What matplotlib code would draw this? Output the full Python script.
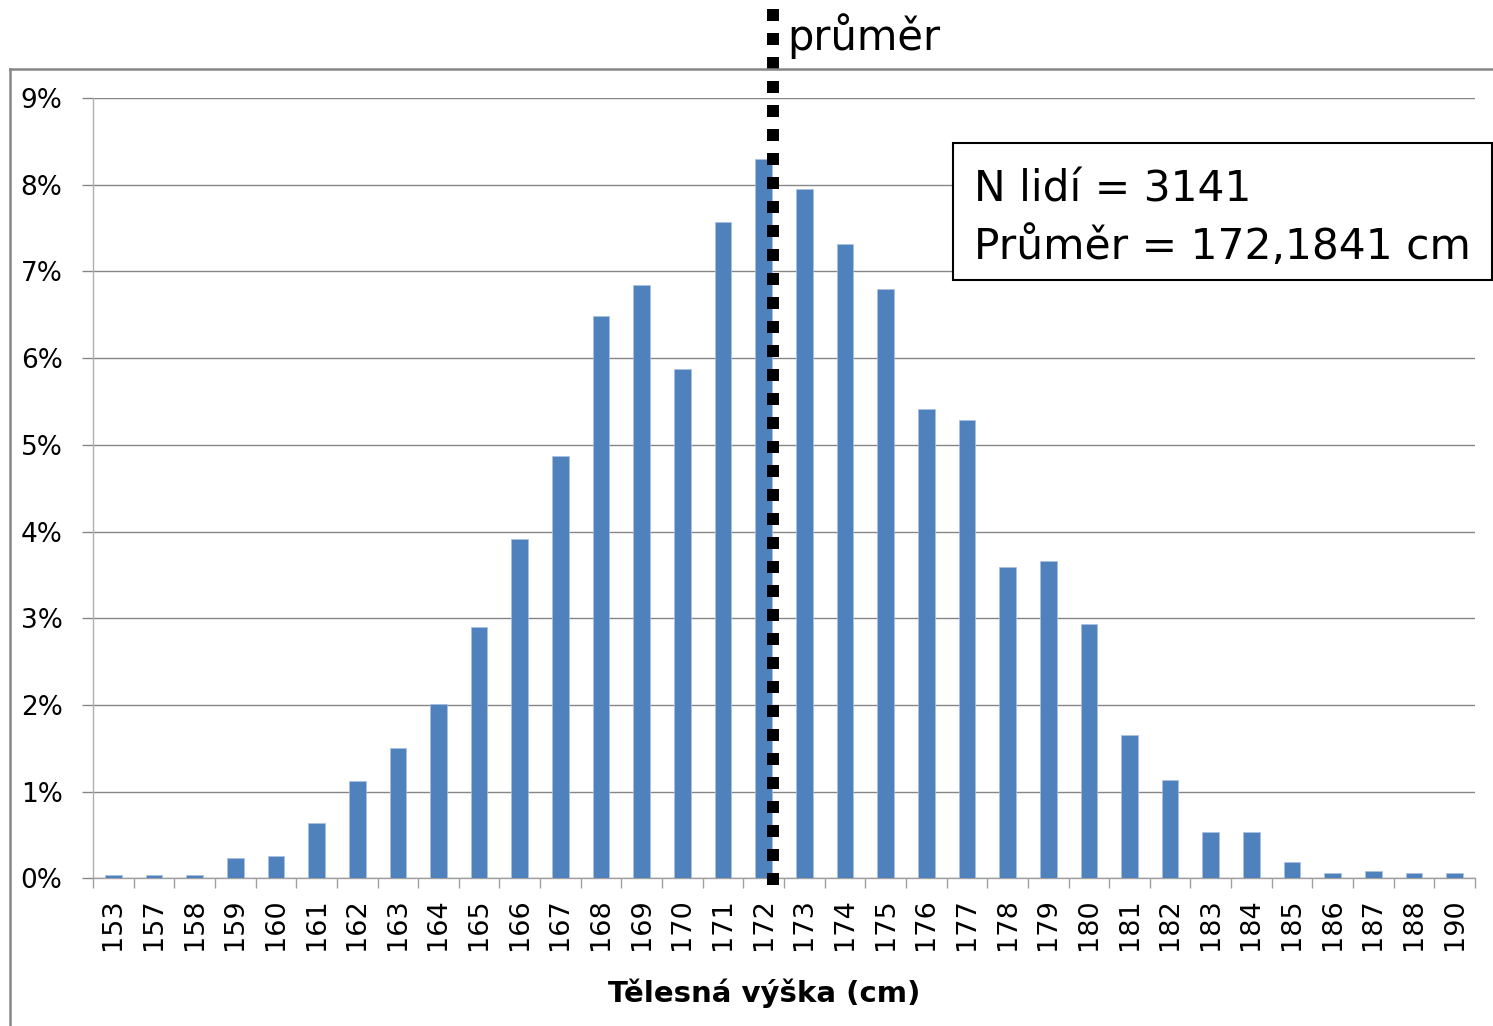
import matplotlib
matplotlib.use('Agg')
import matplotlib.pyplot as plt
import matplotlib.transforms as mtransforms
from matplotlib.lines import Line2D
from matplotlib.patches import Rectangle
import numpy as np

# ---- data ----
categories = ['153', '157', '158', '159', '160', '161', '162', '163', '164', '165',
              '166', '167', '168', '169', '170', '171', '172', '173', '174', '175',
              '176', '177', '178', '179', '180', '181', '182', '183', '184', '185',
              '186', '187', '188', '190']
values = [0.035, 0.035, 0.035, 0.23, 0.254, 0.638, 1.122, 1.503, 2.01, 2.90,
          3.91, 4.87, 6.49, 6.84, 5.88, 7.57, 8.30, 7.95, 7.32, 6.80,
          5.41, 5.29, 3.59, 3.66, 2.93, 1.654, 1.135, 0.539, 0.539, 0.193,
          0.058, 0.089, 0.058, 0.058]
ytick_values = list(range(10))
ytick_labels = [f'{v}%' for v in ytick_values]
n_people = 3141
mean_label = '172,1841'
mean_pos = 16.23          # position of the mean line on the category axis
xlabel = 'Tělesná výška (cm)'
mean_text = 'průměr'

W, H = 1493, 1026
plt.rcParams['font.family'] = ['DejaVu Sans']
fig = plt.figure(figsize=(W / 100, H / 100), dpi=100)


def fx(px):
    return px / W


def fy(py):
    return 1 - py / H


ax = fig.add_axes([fx(93), fy(878.3), (1475 - 93) / W, (878.3 - 98) / H])
x = np.arange(len(categories))
ax.bar(x, values, width=0.41, color='#4F81BD', edgecolor='#a9c1e0',
       linewidth=0.5, zorder=3)
ax.set_xlim(-0.5, len(categories) - 0.5)
ax.set_ylim(0, 9)
ax.set_yticks(ytick_values)
ax.set_yticklabels(ytick_labels)
ax.yaxis.grid(True, color='#868686', linewidth=1.0)
ax.set_axisbelow(True)

ax.set_xticks(x)
ax.set_xticklabels(categories, rotation=90)
ax.set_xticks(np.arange(-0.5, len(categories)), minor=True)
ax.tick_params(axis='x', which='major', length=0, pad=14.5, labelsize=19.5)
ax.tick_params(axis='x', which='minor', length=7.2, width=1, color='#a0a0a0')
ax.tick_params(axis='y', length=7.9, width=1, color='#868686', pad=14.0,
               labelsize=19)
for s in ('top', 'right'):
    ax.spines[s].set_visible(False)
ax.spines['left'].set_color('#b0b0b0')
ax.spines['left'].set_linewidth(1.0)
ax.spines['bottom'].set_color('#a0a0a0')
ax.spines['bottom'].set_linewidth(1.0)

# mean dotted line
trans = mtransforms.blended_transform_factory(ax.transData, ax.transAxes)
ax.plot([mean_pos, mean_pos], [1.1137, -0.009], transform=trans,
        color='black', lw=8.64, dashes=(1, 1), clip_on=False, zorder=5,
        dash_capstyle='butt', solid_capstyle='butt')

ax.set_xlabel(xlabel, fontsize=21, fontweight='bold')
ax.xaxis.set_label_coords((764 - 93) / 1382, (878.3 - 1002) / 780.3)
ax.xaxis.label.set_va('baseline')

fig.text(fx(787), fy(50), mean_text, fontsize=30, va='baseline')

# info box
fig.add_artist(Rectangle((fx(953), fy(280)), (1492 - 953) / W, (280 - 143) / H,
                         transform=fig.transFigure, facecolor='white',
                         edgecolor='black', lw=1.5, zorder=4))
fig.text(fx(974), fy(202), f'N lidí = {n_people}', fontsize=30.5,
         va='baseline', zorder=5)
fig.text(fx(974), fy(259), f'Průměr = {mean_label} cm', fontsize=30.5,
         va='baseline', zorder=5)

# outer chart frame
fig.add_artist(Line2D([fx(10), fx(10)], [fy(69), 0], transform=fig.transFigure,
                      color='#868686', lw=1.8))
fig.add_artist(Line2D([fx(10), 1], [fy(69), fy(69)], transform=fig.transFigure,
                      color='#868686', lw=1.8))

fig.savefig('out.png', dpi=100)
